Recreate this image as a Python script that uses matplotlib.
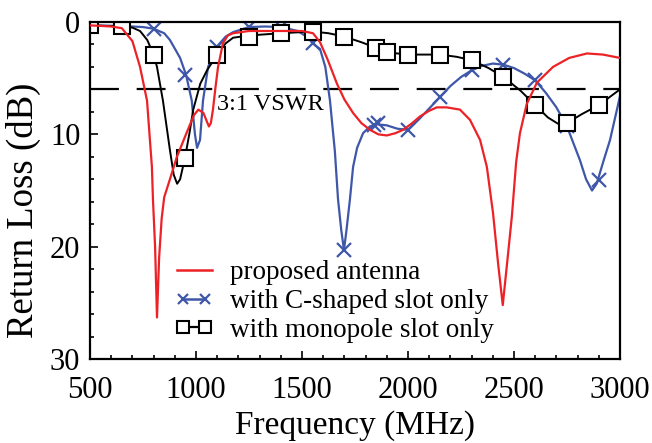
import matplotlib
matplotlib.use("Agg")
import matplotlib.pyplot as plt
from matplotlib.lines import Line2D
from matplotlib.ticker import MultipleLocator
from matplotlib.legend_handler import HandlerLine2D

# ---- data ----
red_f = [500, 600, 650, 700, 736, 769, 792, 797, 807, 816, 826, 838, 850, 877, 910, 957, 990, 1011,
         1035, 1050, 1061, 1070, 1080, 1092, 1104, 1127, 1150, 1175, 1250, 1400, 1500, 1552, 1585,
         1620, 1665, 1700, 1741, 1780, 1821, 1860, 1900, 1940, 1977, 2020, 2057, 2100, 2136, 2183,
         2245, 2292, 2340, 2372, 2401, 2425, 2447, 2470, 2490, 2510, 2528, 2560, 2608, 2684, 2760,
         2844, 2920, 3000]
red_db = [0.3, 0.4, 0.55, 1.7, 4.0, 7.0, 12.9, 15.8, 20.0, 26.3, 21.0, 17.5, 15.6, 14.0, 12.0, 9.8,
          8.3, 7.8, 8.1, 8.8, 9.3, 9.0, 7.8, 5.8, 4.0, 1.9, 1.2, 1.0, 0.8, 0.8, 0.8, 1.0, 1.8,
          3.3, 5.5, 6.9, 8.1, 9.0, 9.6, 10.0, 10.1, 9.9, 9.6, 9.0, 8.4, 7.9, 7.6, 7.6,
          7.8, 8.7, 10.5, 12.9, 17.0, 21.5, 25.2, 21.0, 17.3, 12.5, 9.9, 7.3, 5.4, 4.0, 3.2,
          2.8, 2.9, 3.2]

blue_f = [500, 650, 750, 800, 850, 877, 925, 953, 980, 995, 1005, 1019, 1033, 1057, 1098, 1140,
          1175, 1250, 1325, 1400, 1480, 1530, 1550, 1585, 1610, 1632, 1655, 1670, 1685, 1698, 1710,
          1726, 1741, 1760, 1788, 1820, 1850, 1900, 1950, 2000, 2050, 2100, 2150, 2200, 2250, 2300,
          2350, 2400, 2450, 2500, 2550, 2600, 2650, 2700, 2750, 2811, 2840, 2868, 2890, 2920, 2953,
          3000]
blue_db = [0.3, 0.35, 0.45, 0.6, 1.0, 1.6, 3.2, 4.7, 7.0, 10.0, 11.2, 10.5, 7.0, 4.0, 2.2, 1.3,
           0.9, 0.45, 0.4, 0.45, 0.8, 1.4, 1.9, 2.4, 4.0, 7.0, 11.5, 15.8, 18.5, 20.3, 18.5,
           15.8, 12.9, 11.2, 9.9, 9.3, 9.1, 9.2, 9.5, 9.6, 8.7, 7.7, 6.7, 5.7, 4.9, 4.3,
           3.9, 3.7, 3.8, 4.1, 4.6, 5.2, 6.3, 7.6, 9.3, 12.3, 14.0, 15.0, 14.4, 12.5, 10.5,
           6.6]
blue_mf = [500, 650, 800, 950, 1100, 1250, 1400, 1550, 1700, 1840, 1860, 2000, 2150, 2300, 2450,
           2600, 2750, 2900]
blue_mdb = [0.3, 0.35, 0.6, 4.7, 2.2, 0.45, 0.45, 1.9, 20.3, 9.2, 9.0, 9.6, 6.7, 4.3, 3.8,
            5.2, 9.3, 14.1]

black_f = [500, 650, 700, 736, 770, 800, 816, 844, 877, 895, 911, 925, 948, 970, 987, 1020, 1052,
           1100, 1140, 1175, 1250, 1400, 1550, 1625, 1700, 1780, 1850, 1900, 2000, 2075, 2150,
           2230, 2300, 2380, 2450, 2530, 2600, 2660, 2720, 2750, 2820, 2900, 3000]
black_db = [0.3, 0.4, 0.5, 0.8, 1.6, 2.9, 4.0, 7.0, 11.4, 13.6, 14.4, 14.0, 12.1, 9.8, 7.8, 5.5, 4.3,
            2.9, 1.9, 1.4, 1.2, 1.0, 0.85, 1.0, 1.3, 1.8, 2.3, 2.7, 2.9, 2.9, 2.9,
            3.1, 3.4, 4.1, 4.9, 6.1, 7.4, 8.5, 9.2, 9.0, 8.2, 7.4, 6.0]
black_mf = [500, 650, 800, 950, 1100, 1250, 1400, 1550, 1700, 1850, 1900, 2000, 2150, 2300, 2450,
            2600, 2750, 2900]
black_mdb = [0.3, 0.4, 2.9, 12.1, 2.9, 1.3, 1.0, 0.85, 1.3, 2.3, 2.7, 2.9, 2.9, 3.4, 4.9,
             7.4, 9.0, 7.4]

vswr_db = 6.0
labels = ["proposed antenna", "with C-shaped slot only", "with monopole slot only"]

RED = "#ec2227"
BLUE = "#3f57a9"
BLACK = "#000000"

plt.rcParams['font.family'] = ['Liberation Serif', 'DejaVu Serif']

fig = plt.figure(figsize=(6.52, 4.43), dpi=100)
ax = fig.add_axes([90/652, 1-359/443, 530/652, 337/443])

ax.axhline(vswr_db, color='black', lw=1.6, dashes=(13, 8), zorder=1)

ax.plot(red_f, red_db, color=RED, lw=1.6, zorder=3)
ax.plot(blue_f, blue_db, color=BLUE, lw=1.6, zorder=2)
ax.plot(blue_mf, blue_mdb, ls='none', marker='x', ms=10, mew=1.6, color=BLUE, zorder=2)
ax.plot(black_f, black_db, color=BLACK, lw=1.4, zorder=2)
ax.plot(black_mf, black_mdb, ls='none', marker='s', ms=11, mew=1.5, mfc='white', mec=BLACK, zorder=2.5)

ax.text(1099, 6.45, "3:1 VSWR", fontsize=17.5, va='top', ha='left')

ax.set_xlim(500, 3000)
ax.set_ylim(30, 0)
ax.xaxis.set_major_locator(MultipleLocator(500))
ax.xaxis.set_minor_locator(MultipleLocator(100))
ax.yaxis.set_major_locator(MultipleLocator(10))
ax.yaxis.set_minor_locator(MultipleLocator(2))
ax.tick_params(which='both', direction='in', top=False, right=False, width=1.2)
ax.tick_params(which='major', length=5.5, labelsize=22)
ax.tick_params(axis='x', which='major', pad=12)
ax.tick_params(axis='y', which='major', pad=7)
ax.tick_params(which='minor', length=3.2)
for s in ax.spines.values():
    s.set_linewidth(1.6)

ax.set_xlabel("Frequency (MHz)", fontsize=24, labelpad=4)
ax.set_ylabel("Return Loss (dB)", fontsize=26.5)
ax.yaxis.set_label_coords(-0.092, 0.44)

h_red = Line2D([], [], color=RED, lw=1.8)
h_blue = Line2D([], [], color=BLUE, lw=1.8, marker='x', ms=7.5, mew=1.6)
h_black = Line2D([], [], color=BLACK, lw=1.6, marker='s', ms=8, mew=1.5, mfc='white')
leg = ax.legend([h_red, h_blue, h_black], labels, loc='upper left',
                bbox_to_anchor=(0.148, 0.293), frameon=False, fontsize=19.5,
                handlelength=1.9, handletextpad=0.38, labelspacing=0.14, borderpad=0,
                borderaxespad=0, numpoints=2,
                handler_map={h_blue: HandlerLine2D(marker_pad=0.55, numpoints=2),
                             h_black: HandlerLine2D(marker_pad=0.55, numpoints=2)})

fig.savefig("out.png", dpi=100)
